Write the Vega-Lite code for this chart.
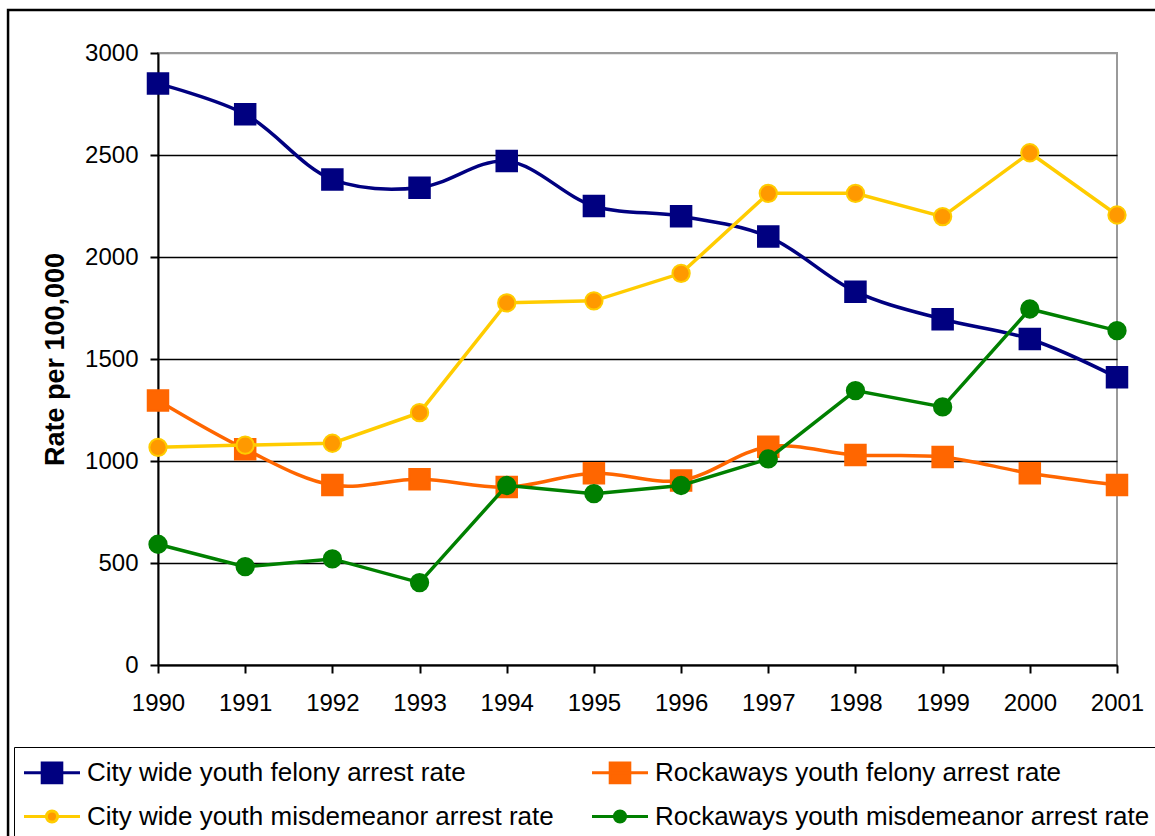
{
  "$schema": "https://vega.github.io/schema/vega-lite/v6.json",
  "width": 959,
  "height": 612,
  "autosize": {"type": "none"},
  "padding": {"left": 158, "top": 53, "right": 38, "bottom": 171},
  "background": "white",
  "config": {
    "font": "Liberation Sans",
    "view": {"stroke": "#9a9a9a", "strokeWidth": 2},
    "legend": {
      "title": null,
      "orient": "none",
      "legendX": -144,
      "legendY": 694,
      "direction": "horizontal",
      "columns": 2,
      "columnPadding": 32,
      "rowPadding": 11,
      "padding": 9,
      "strokeColor": "black",
      "fillColor": "white",
      "labelFont": "Liberation Sans",
      "labelFontSize": 26,
      "labelColor": "black",
      "labelLimit": 700,
      "labelOffset": 31,
      "symbolSize": 900,
      "symbolStrokeWidth": 3,
      "symbolOffset": 0
    }
  },
  "data": {
    "values": [
      {"year": 1990, "series": "City wide youth felony arrest rate", "rate": 2850},
      {"year": 1991, "series": "City wide youth felony arrest rate", "rate": 2700},
      {"year": 1992, "series": "City wide youth felony arrest rate", "rate": 2380},
      {"year": 1993, "series": "City wide youth felony arrest rate", "rate": 2340},
      {"year": 1994, "series": "City wide youth felony arrest rate", "rate": 2470},
      {"year": 1995, "series": "City wide youth felony arrest rate", "rate": 2250},
      {"year": 1996, "series": "City wide youth felony arrest rate", "rate": 2200},
      {"year": 1997, "series": "City wide youth felony arrest rate", "rate": 2100},
      {"year": 1998, "series": "City wide youth felony arrest rate", "rate": 1830},
      {"year": 1999, "series": "City wide youth felony arrest rate", "rate": 1695},
      {"year": 2000, "series": "City wide youth felony arrest rate", "rate": 1598},
      {"year": 2001, "series": "City wide youth felony arrest rate", "rate": 1410},
      {"year": 1990, "series": "Rockaways youth felony arrest rate", "rate": 1296},
      {"year": 1991, "series": "Rockaways youth felony arrest rate", "rate": 1058},
      {"year": 1992, "series": "Rockaways youth felony arrest rate", "rate": 882},
      {"year": 1993, "series": "Rockaways youth felony arrest rate", "rate": 910},
      {"year": 1994, "series": "Rockaways youth felony arrest rate", "rate": 872},
      {"year": 1995, "series": "Rockaways youth felony arrest rate", "rate": 940},
      {"year": 1996, "series": "Rockaways youth felony arrest rate", "rate": 905},
      {"year": 1997, "series": "Rockaways youth felony arrest rate", "rate": 1070},
      {"year": 1998, "series": "Rockaways youth felony arrest rate", "rate": 1030},
      {"year": 1999, "series": "Rockaways youth felony arrest rate", "rate": 1020},
      {"year": 2000, "series": "Rockaways youth felony arrest rate", "rate": 940},
      {"year": 2001, "series": "Rockaways youth felony arrest rate", "rate": 882},
      {"year": 1990, "series": "City wide youth misdemeanor arrest rate", "rate": 1067},
      {"year": 1991, "series": "City wide youth misdemeanor arrest rate", "rate": 1078},
      {"year": 1992, "series": "City wide youth misdemeanor arrest rate", "rate": 1087},
      {"year": 1993, "series": "City wide youth misdemeanor arrest rate", "rate": 1237},
      {"year": 1994, "series": "City wide youth misdemeanor arrest rate", "rate": 1775},
      {"year": 1995, "series": "City wide youth misdemeanor arrest rate", "rate": 1785},
      {"year": 1996, "series": "City wide youth misdemeanor arrest rate", "rate": 1920},
      {"year": 1997, "series": "City wide youth misdemeanor arrest rate", "rate": 2312},
      {"year": 1998, "series": "City wide youth misdemeanor arrest rate", "rate": 2312},
      {"year": 1999, "series": "City wide youth misdemeanor arrest rate", "rate": 2198},
      {"year": 2000, "series": "City wide youth misdemeanor arrest rate", "rate": 2511},
      {"year": 2001, "series": "City wide youth misdemeanor arrest rate", "rate": 2206},
      {"year": 1990, "series": "Rockaways youth misdemeanor arrest rate", "rate": 592},
      {"year": 1991, "series": "Rockaways youth misdemeanor arrest rate", "rate": 482},
      {"year": 1992, "series": "Rockaways youth misdemeanor arrest rate", "rate": 520},
      {"year": 1993, "series": "Rockaways youth misdemeanor arrest rate", "rate": 404},
      {"year": 1994, "series": "Rockaways youth misdemeanor arrest rate", "rate": 880},
      {"year": 1995, "series": "Rockaways youth misdemeanor arrest rate", "rate": 840},
      {"year": 1996, "series": "Rockaways youth misdemeanor arrest rate", "rate": 880},
      {"year": 1997, "series": "Rockaways youth misdemeanor arrest rate", "rate": 1010},
      {"year": 1998, "series": "Rockaways youth misdemeanor arrest rate", "rate": 1345},
      {"year": 1999, "series": "Rockaways youth misdemeanor arrest rate", "rate": 1265},
      {"year": 2000, "series": "Rockaways youth misdemeanor arrest rate", "rate": 1745},
      {"year": 2001, "series": "Rockaways youth misdemeanor arrest rate", "rate": 1639}
    ]
  },
  "encoding": {
    "x": {
      "field": "year",
      "type": "quantitative",
      "scale": {"domain": [1990, 2001], "nice": false, "zero": false},
      "axis": {
        "values": [1990, 1991, 1992, 1993, 1994, 1995, 1996, 1997, 1998, 1999, 2000, 2001],
        "format": "d",
        "title": null,
        "grid": false,
        "labelFlush": false,
        "labelOverlap": false,
        "tickSize": 8,
        "tickWidth": 2,
        "tickColor": "black",
        "domainColor": "black",
        "domainWidth": 2,
        "labelPadding": 18,
        "labelFont": "Liberation Sans",
        "labelFontSize": 24,
        "labelColor": "black"
      }
    },
    "y": {
      "field": "rate",
      "type": "quantitative",
      "scale": {"domain": [0, 3000], "nice": false},
      "axis": {
        "values": [0, 500, 1000, 1500, 2000, 2500, 3000],
        "format": "d",
        "title": "Rate per 100,000",
        "titleFont": "Liberation Sans",
        "titleFontSize": 27,
        "titleFontWeight": "bold",
        "titleColor": "black",
        "titleAngle": -90,
        "titleAlign": "center",
        "titleBaseline": "alphabetic",
        "titleX": -95,
        "titleY": 306,
        "grid": true,
        "gridColor": {"condition": {"test": "datum.value === 3000", "value": "#9a9a9a"}, "value": "black"},
        "gridWidth": 1.5,
        "labelFlush": false,
        "tickSize": 8,
        "tickWidth": 2,
        "tickColor": "black",
        "domainColor": "black",
        "domainWidth": 2,
        "labelPadding": 12,
        "labelFont": "Liberation Sans",
        "labelFontSize": 24,
        "labelColor": "black"
      }
    }
  },
  "layer": [
    {
      "transform": [{"filter": "indexof(datum.series, 'felony') >= 0"}],
      "layer": [
        {
          "mark": {"type": "line", "interpolate": "catmull-rom", "strokeWidth": 3.5},
          "encoding": {
            "stroke": {
              "field": "series",
              "type": "nominal",
              "scale": {
                "domain": ["City wide youth felony arrest rate", "Rockaways youth felony arrest rate", "City wide youth misdemeanor arrest rate", "Rockaways youth misdemeanor arrest rate"],
                "range": ["#000080", "#FF6600", "#FFCC00", "#008000"]
              }
            }
          }
        },
        {
          "mark": {"type": "point", "filled": true, "opacity": 1, "strokeWidth": 2, "shape": "square", "size": 420},
          "encoding": {
            "fill": {
              "field": "series",
              "type": "nominal",
              "scale": {
                "domain": ["City wide youth felony arrest rate", "Rockaways youth felony arrest rate", "City wide youth misdemeanor arrest rate", "Rockaways youth misdemeanor arrest rate"],
                "range": ["#000080", "#FF6600", "#FF9900", "#008000"]
              }
            },
            "stroke": {"field": "series", "type": "nominal"}
          }
        }
      ]
    },
    {
      "transform": [{"filter": "indexof(datum.series, 'misdemeanor') >= 0"}],
      "layer": [
        {
          "mark": {"type": "line", "interpolate": "linear", "strokeWidth": 3.5},
          "encoding": {
            "stroke": {"field": "series", "type": "nominal"}
          }
        },
        {
          "mark": {"type": "point", "filled": true, "opacity": 1, "strokeWidth": 2, "shape": "circle", "size": 300},
          "encoding": {
            "fill": {"field": "series", "type": "nominal"},
            "stroke": {"field": "series", "type": "nominal"}
          }
        }
      ]
    },
    {
      "transform": [{"filter": "false"}],
      "mark": {"type": "point", "filled": true},
      "encoding": {
        "shape": {
          "field": "series",
          "type": "nominal",
          "scale": {
            "domain": ["City wide youth felony arrest rate", "Rockaways youth felony arrest rate", "City wide youth misdemeanor arrest rate", "Rockaways youth misdemeanor arrest rate"],
            "range": [
              "M-1.033,0H2.7M0.18,-0.653H1.487V0.653H0.18Z",
              "M-1.033,0H2.7M0.18,-0.653H1.487V0.653H0.18Z",
              "M-1.033,0H0.46M1.206,0H2.7M1.206,0C1.206,0.206,1.039,0.373,0.833,0.373C0.627,0.373,0.46,0.206,0.46,0C0.46,-0.206,0.627,-0.373,0.833,-0.373C1.039,-0.373,1.206,-0.206,1.206,0Z",
              "M-1.033,0H0.46M1.206,0H2.7M1.206,0C1.206,0.206,1.039,0.373,0.833,0.373C0.627,0.373,0.46,0.206,0.46,0C0.46,-0.206,0.627,-0.373,0.833,-0.373C1.039,-0.373,1.206,-0.206,1.206,0Z"
            ]
          }
        },
        "fill": {"field": "series", "type": "nominal"},
        "stroke": {"field": "series", "type": "nominal"}
      }
    },
    {
      "data": {"values": [{"left": 1988.28, "right": 2004, "top": 3211, "bottom": -1200}]},
      "mark": {"type": "rect", "fill": "transparent", "stroke": "black", "strokeWidth": 2.5, "clip": false},
      "encoding": {
        "x": {"field": "left", "type": "quantitative"},
        "x2": {"field": "right"},
        "y": {"field": "top", "type": "quantitative"},
        "y2": {"field": "bottom"}
      }
    }
  ]
}
